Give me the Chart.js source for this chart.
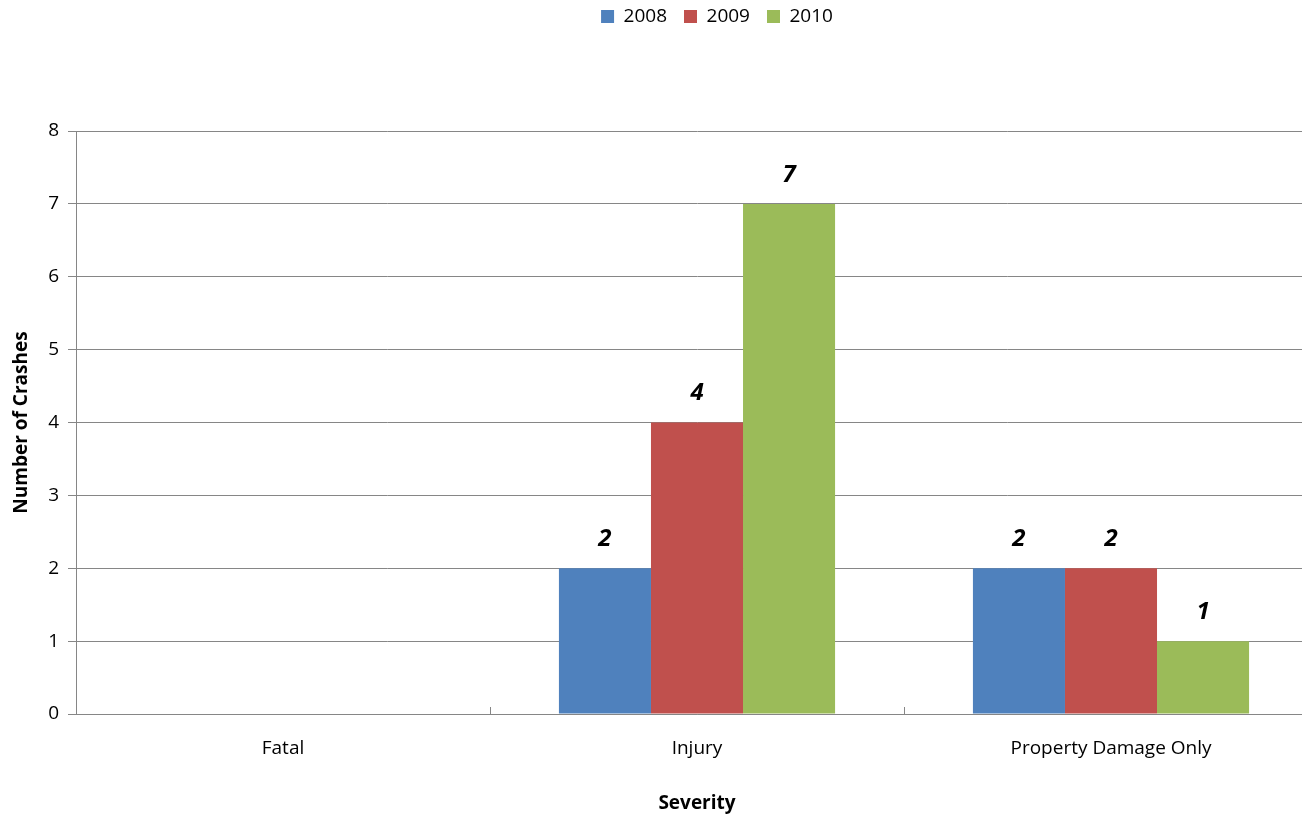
<!DOCTYPE html>
<html><head><meta charset="utf-8">
<script src="https://cdn.jsdelivr.net/npm/chart.js@4"></script>
<style>html,body{margin:0;padding:0;background:#fff;overflow:hidden}#wrap{width:1302px;height:817px;overflow:hidden}canvas{display:block}</style>
</head><body><div id="wrap"><canvas id="c" width="1318" height="817"></canvas></div>
<script>
const categories = ["Fatal", "Injury", "Property Damage Only"];
const seriesNames = ["2008", "2009", "2010"];
const values2008 = [0, 2, 2];
const values2009 = [0, 4, 2];
const values2010 = [0, 7, 1];
const yTicks = [0, 1, 2, 3, 4, 5, 6, 7, 8];
const colors = ["#4F81BD", "#C0504D", "#9BBB59"];
const FONT = "'Open Sans', sans-serif";

const labelPlugin = {
  id: 'labels',
  afterDatasetsDraw(chart) {
    const ctx = chart.ctx;
    ctx.save();
    ctx.font = "italic bold 24px " + FONT;
    ctx.fillStyle = "#000";
    ctx.textAlign = "center";
    ctx.textBaseline = "middle";
    chart.data.datasets.forEach((ds, i) => {
      chart.getDatasetMeta(i).data.forEach((bar, j) => {
        const v = ds.data[j];
        if (v) ctx.fillText(String(v), bar.x, bar.y - 29);
      });
    });
    ctx.restore();
  }
};
const tickPlugin = {
  id: 'xticks',
  afterDraw(chart) {
    const x = chart.scales.x, ctx = chart.ctx;
    const bottom = chart.chartArea.bottom;
    ctx.save();
    ctx.strokeStyle = "#868686"; ctx.lineWidth = 1;
    for (let i = 1; i < categories.length; i++) {
      const px = Math.round((x.getPixelForValue(i - 1) + x.getPixelForValue(i)) / 2) + 0.5;
      ctx.beginPath(); ctx.moveTo(px, bottom); ctx.lineTo(px, bottom - 7); ctx.stroke();
    }
    ctx.restore();
  }
};
const legendPlugin = {
  id: 'legendPos',
  beforeLayout(chart) {
    const lg = chart.legend;
    if (lg && !lg._patched) {
      const f = lg.fit;
      lg.fit = function () { f.call(this); this.height = 131; };
      lg._patched = true;
    }
  },
  afterLayout(chart) {
    const lg = chart.legend;
    lg.left += 58; lg.right += 58; lg.top -= 10;
  }
};

new Chart(document.getElementById('c'), {
  type: 'bar',
  data: {
    labels: categories,
    datasets: [
      { label: seriesNames[0], data: values2008, backgroundColor: colors[0] },
      { label: seriesNames[1], data: values2009, backgroundColor: colors[1] },
      { label: seriesNames[2], data: values2010, backgroundColor: colors[2] }
    ]
  },
  options: {
    responsive: false,
    animation: false,
    layout: { padding: { top: 0, right: 0, left: 0, bottom: 0 } },
    datasets: { bar: { categoryPercentage: 0.667, barPercentage: 1 } },
    plugins: {
      legend: {
        position: 'top',
        labels: { boxWidth: 13, boxHeight: 13, font: { family: FONT, size: 19 }, color: "#000", padding: 17 },
      },
      tooltip: { enabled: false }
    },
    scales: {
      x: {
        grid: { display: false, drawTicks: false },
        border: { color: "#868686" },
        ticks: { font: { family: FONT, size: 19 }, color: "#000", padding: 23 },
        title: { display: true, text: "Severity", font: { family: FONT, size: 19, weight: 'bold' }, color: "#000", padding: { top: 20, bottom: 2 } },
        afterFit(s) { s.height = 103; }
      },
      y: {
        min: 0, max: 8,
        afterBuildTicks(s) { s.ticks = yTicks.map(v => ({ value: v })); },
        grid: { color: "#868686", tickLength: 8 },
        border: { color: "#868686" },
        ticks: { font: { family: FONT, size: 19 }, color: "#000", padding: 9 },
        title: { display: true, text: "Number of Crashes", font: { family: FONT, size: 19, weight: 'bold' }, color: "#000", padding: { top: 10, bottom: 0 } },
        afterFit(s) { s.width = 76; }
      }
    }
  },
  plugins: [legendPlugin, labelPlugin, tickPlugin]
});
</script></body></html>
